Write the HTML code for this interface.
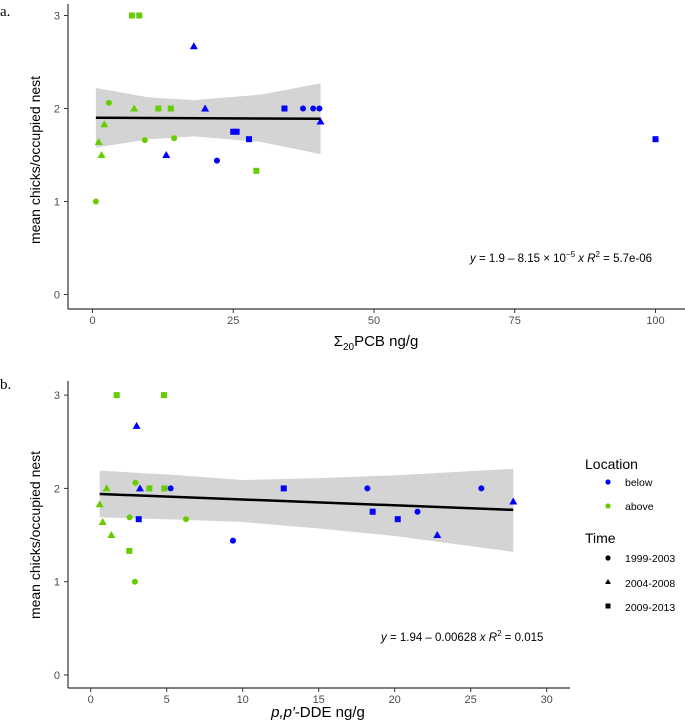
<!DOCTYPE html>
<html><head><meta charset="utf-8"><style>
html,body{margin:0;padding:0;background:#fff;}
svg{display:block;font-family:"Liberation Sans",sans-serif;}
</style></head><body>
<svg id="c" width="685" height="726" viewBox="0 0 685 726">
<text x="0" y="16" font-family="Liberation Serif" font-size="15">a.</text>
<text x="0" y="389" font-family="Liberation Serif" font-size="15">b.</text>
<text transform="translate(40,160) rotate(-90)" text-anchor="middle" font-size="14">mean chicks/occupied nest</text>
<text transform="translate(40,535) rotate(-90)" text-anchor="middle" font-size="14">mean chicks/occupied nest</text>
<text x="376" y="346" text-anchor="middle" font-size="15">Σ<tspan font-size="10" dy="4">20</tspan><tspan dy="-4">PCB ng/g</tspan></text>
<text x="318" y="717" text-anchor="middle" font-size="15"><tspan font-style="italic">p,p′</tspan>-DDE ng/g</text>
<text x="470" y="262" font-size="11.5"><tspan font-style="italic">y</tspan> = 1.9 – 8.15 × 10<tspan font-size="8" dy="-5">−5</tspan><tspan dy="5"> </tspan><tspan font-style="italic">x</tspan>   <tspan font-style="italic">R</tspan><tspan font-size="8" dy="-5">2</tspan><tspan dy="5"> = 5.7e-06</tspan></text>
<text x="381" y="641" font-size="11.5"><tspan font-style="italic">y</tspan> = 1.94 – 0.00628 <tspan font-style="italic">x</tspan>   <tspan font-style="italic">R</tspan><tspan font-size="8" dy="-5">2</tspan><tspan dy="5"> = 0.015</tspan></text>
<g>
<text x="585" y="469" font-size="14">Location</text>
<circle cx="608" cy="482" r="2.6" fill="#0000ff"/>
<text x="625" y="486" font-size="10.5">below</text>
<circle cx="608" cy="506" r="2.6" fill="#66cd00"/>
<text x="625" y="510" font-size="10.5">above</text>
<text x="585" y="543" font-size="14">Time</text>
<circle cx="608" cy="558" r="2.6" fill="#000"/>
<text x="625" y="562" font-size="10.5">1999-2003</text>
<polygon points="608,579 611,584 605,584" fill="#000"/>
<text x="625" y="587" font-size="10.5">2004-2008</text>
<rect x="605.5" y="603.5" width="5" height="5" fill="#000"/>
<text x="625" y="611" font-size="10.5">2009-2013</text>
</g>
</svg>
<script>
// Panel A data
const aX = [0.6,2.9,9.3,14.5,1.1,1.6,2.1,7.4,7.0,8.3,11.7,13.9,29.1,18.0,20.0,13.1,22.1,25.0,25.6,27.8,34.1,37.4,39.2,40.3,40.5,100];
const aY = [1.0,2.06,1.66,1.68,1.64,1.5,1.83,2.0,3.0,3.0,2.0,2.0,1.33,2.67,2.0,1.5,1.44,1.75,1.75,1.67,2.0,2.0,2.0,2.0,1.86,1.67];
const aLoc = ['above','above','above','above','above','above','above','above','above','above','above','above','above','below','below','below','below','below','below','below','below','below','below','below','below','below'];
const aTime = ['c','c','c','c','t','t','t','t','s','s','s','s','s','t','t','t','c','s','s','s','s','c','c','c','t','s'];
const aBandX = [0.6,10,18,30,40.5];
const aBandLo = [1.58,1.67,1.70,1.64,1.51];
const aBandHi = [2.22,2.12,2.09,2.15,2.27];
const aFitX = [0.6,40.5];
const aFitY = [1.90,1.89];
const aTicksX = [0,25,50,75,100];
const aTicksY = [0,1,2,3];
// Panel B data
const bX = [1.71,4.82,1.05,2.94,3.86,4.85,0.59,2.56,6.27,0.79,1.36,2.54,2.91,3.02,3.24,5.26,3.16,9.36,12.7,18.2,18.55,20.2,21.5,22.8,25.7,27.8];
const bY = [3,3,2,2.06,2,2,1.83,1.69,1.67,1.64,1.5,1.33,1.0,2.67,2,2,1.67,1.44,2,2,1.75,1.67,1.75,1.5,2,1.86];
const bLoc = ['above','above','above','above','above','above','above','above','above','above','above','above','above','below','below','below','below','below','below','below','below','below','below','below','below','below'];
const bTime = ['s','s','t','c','s','s','t','c','c','t','t','s','c','t','t','c','s','c','s','c','s','s','c','t','c','t'];
const bBandX = [0.59,5,10,15,20,27.8];
const bBandLo = [1.69,1.67,1.64,1.57,1.49,1.32];
const bBandHi = [2.19,2.15,2.09,2.11,2.14,2.21];
const bFitX = [0.59,27.8];
const bFitY = [1.94,1.77];
const bTicksX = [0,5,10,15,20,25,30];
const bTicksY = [0,1,2,3];

const NS='http://www.w3.org/2000/svg';
const svg=document.getElementById('c');
function mk(tag,attrs,parent){const e=document.createElementNS(NS,tag);for(const k in attrs)e.setAttribute(k,attrs[k]);(parent||svg).appendChild(e);return e;}
const COL={below:'#0000ff',above:'#66cd00'};

function panel(p,X,Y,L,T,bx,blo,bhi,fx,fy,tx,ty,sx,sy,axTop,axBottom,axRight){
  const g=mk('g',{});
  
  
  // band
  let pts=[];
  for(let i=0;i<bx.length;i++)pts.push(sx(bx[i])+','+sy(bhi[i]));
  for(let i=bx.length-1;i>=0;i--)pts.push(sx(bx[i])+','+sy(blo[i]));
  const band=mk('polygon',{points:pts.join(' '),fill:'#d4d4d4'},g);
  
  
  const fit=mk('line',{x1:sx(fx[0]),y1:sy(fy[0]),x2:sx(fx[1]),y2:sy(fy[1]),stroke:'#000','stroke-width':2.5},g);
  
  
  // axes
  const ya=mk('line',{x1:68,y1:axTop,x2:68,y2:axBottom,stroke:'#333','stroke-width':1.2},g);
  
  
  const xa=mk('line',{x1:68,y1:axBottom,x2:axRight,y2:axBottom,stroke:'#333','stroke-width':1.2},g);
  
  
  ty.forEach(v=>{
    const y=sy(v);
    mk('line',{x1:64,y1:y,x2:68,y2:y,stroke:'#333'},g);
    const t=mk('text',{x:60,y:y+4,'text-anchor':'end','font-size':11,fill:'#4d4d4d'},g);
    t.textContent=v;
    
    
  });
  tx.forEach(v=>{
    const x=sx(v);
    mk('line',{x1:x,y1:axBottom,x2:x,y2:axBottom+4,stroke:'#333'},g);
    const t=mk('text',{x:x,y:axBottom+15,'text-anchor':'middle','font-size':11,fill:'#4d4d4d'},g);
    t.textContent=v;
    
    
  });
  for(let i=0;i<X.length;i++){
    const x=sx(X[i]),y=sy(Y[i]),c=COL[L[i]];let m;
    if(T[i]==='c')m=mk('circle',{cx:x,cy:y,r:3,fill:c},g);
    else if(T[i]==='t')m=mk('polygon',{points:x+','+(y-4)+' '+(x+4)+','+(y+3)+' '+(x-4)+','+(y+3),fill:c},g);
    else m=mk('rect',{x:x-3,y:y-3,width:6,height:6,fill:c},g);
    
    
  }
}
panel('a',aX,aY,aLoc,aTime,aBandX,aBandLo,aBandHi,aFitX,aFitY,aTicksX,aTicksY,
  v=>92.5+5.63*v, v=>294.5-93*v, 4, 309, 685);
panel('b',bX,bY,bLoc,bTime,bBandX,bBandLo,bBandHi,bFitX,bFitY,bTicksX,bTicksY,
  v=>90.7+15.2*v, v=>675-93.3*v, 381, 688, 570);
</script>
</body></html>
